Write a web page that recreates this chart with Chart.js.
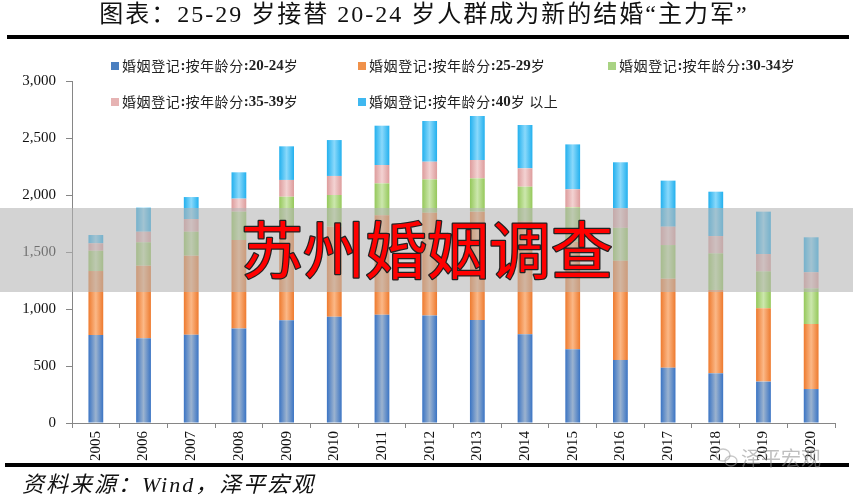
<!DOCTYPE html>
<html><head><meta charset="utf-8">
<script src="https://cdn.jsdelivr.net/npm/chart.js@4.4.1/dist/chart.umd.min.js"></script>
<style>html,body{margin:0;padding:0;background:#fff}#wrap{width:853px;height:500px;position:relative}</style>
</head><body><div id="wrap"><canvas id="c" width="853" height="500"></canvas></div>
<script>
const years = ['2005','2006','2007','2008','2009','2010','2011','2012','2013','2014','2015','2016','2017','2018','2019','2020'];
const age20_24 = [772, 743, 775, 830, 901, 933, 950, 942, 904, 778, 646, 553, 485, 436, 363, 298];
const age25_29 = [561, 637, 693, 775, 819, 789, 872, 902, 950, 992, 944, 870, 781, 731, 643, 570];
const age30_34 = [178, 205, 210, 249, 265, 278, 280, 293, 292, 303, 301, 289, 295, 321, 324, 313];
const age35_39 = [65, 93, 111, 114, 147, 167, 161, 155, 161, 161, 159, 171, 161, 152, 152, 141];
const age40plus = [73, 211, 193, 231, 295, 315, 345, 357, 386, 380, 394, 404, 404, 389, 372, 307];
const seriesLabels = ['婚姻登记:按年龄分:20-24岁','婚姻登记:按年龄分:25-29岁','婚姻登记:按年龄分:30-34岁','婚姻登记:按年龄分:35-39岁','婚姻登记:按年龄分:40岁 以上'];
const titleText = '图表：25-29 岁接替 20-24 岁人群成为新的结婚“主力军”';
const sourceText = '资料来源：Wind，泽平宏观';
const stampText = '苏州婚姻调查';
const markText = '泽平宏观';

const palette = [
  {edge:'#3a74c4', mid:'#9cb3cf', key:'#4a7fc0'},
  {edge:'#ee7a2e', mid:'#fbb887', key:'#f0914a'},
  {edge:'#95c85a', mid:'#cce7ad', key:'#a9d383'},
  {edge:'#dd9c9c', mid:'#f3d2d2', key:'#e6b3b3'},
  {edge:'#22b0ee', mid:'#8ad9fb', key:'#3fb8f0'}
];
const seriesData = [age20_24, age25_29, age30_34, age35_39, age40plus];

const SERIF = "'Liberation Serif'";
const CJK = "'Noto Sans CJK SC'";

function drawMixed(ctx, text, x, y){
  const runs = [];
  for (const ch of text){
    const ascii = /[\x00-\x7f]/.test(ch);
    if (runs.length && runs[runs.length-1].ascii === ascii) runs[runs.length-1].t += ch;
    else runs.push({ascii, t: ch});
  }
  let cx = x;
  for (const r of runs){
    ctx.font = r.ascii ? "bold 15px " + SERIF : "14px " + CJK;
    ctx.letterSpacing = r.ascii ? '0px' : '0.6px';
    ctx.fillText(r.t, cx, y);
    cx += ctx.measureText(r.t).width;
  }
  ctx.letterSpacing = '0px';
}

const decor = {
  id: 'decor',
  beforeDatasetsDraw(chart){
    const ctx = chart.ctx;
    chart.data.datasets.forEach((ds, di) => {
      const meta = chart.getDatasetMeta(di);
      const p = palette[di];
      meta.data.forEach(el => {
        const w = el.width, x0 = el.x - w/2;
        const g = ctx.createLinearGradient(x0, 0, x0 + w, 0);
        g.addColorStop(0, p.edge);
        g.addColorStop(0.5, p.mid);
        g.addColorStop(1, p.edge);
        el.options = Object.assign({}, el.options, {backgroundColor: g});
      });
    });
  },
  afterDraw(chart){
    const ctx = chart.ctx;
    ctx.save();
    // title
    ctx.fillStyle = '#111';
    ctx.textAlign = 'center';
    ctx.textBaseline = 'middle';
    ctx.font = "24px " + SERIF + ", " + CJK;
    ctx.letterSpacing = '2px';
    ctx.fillText(titleText, 424, 16);
    ctx.letterSpacing = '0px';
    // rules
    ctx.fillStyle = '#000';
    ctx.fillRect(7, 35, 842, 4);
    ctx.fillRect(5, 463, 844, 4);
    // source
    ctx.textAlign = 'left';
    ctx.textBaseline = 'middle';
    ctx.fillStyle = '#111';
    ctx.font = "italic 22px " + SERIF + ", " + CJK;
    ctx.letterSpacing = '2px';
    ctx.fillText(sourceText, 22, 486);
    ctx.letterSpacing = '0px';
    // legend
    const legendPos = [[111,66],[358,66],[608,66],[111,102],[358,102]];
    ctx.textBaseline = 'middle';
    seriesLabels.forEach((lab, i) => {
      const [lx, ly] = legendPos[i];
      ctx.fillStyle = palette[i].key;
      ctx.fillRect(lx, ly - 4, 8, 8);
      ctx.fillStyle = '#222';
      drawMixed(ctx, lab, lx + 11, ly);
    });
    // watermark
    ctx.globalAlpha = 0.55;
    ctx.strokeStyle = '#9a9a9a';
    ctx.lineWidth = 1.3;
    ctx.beginPath(); ctx.ellipse(723, 455, 7, 6, 0, 0, Math.PI*2); ctx.stroke();
    ctx.beginPath(); ctx.ellipse(731, 461, 6, 5, 0, 0, Math.PI*2); ctx.stroke();
    ctx.fillStyle = '#8a8a8a';
    ctx.font = "20px " + CJK;
    ctx.textAlign = 'left';
    ctx.fillText(markText, 741, 458);
    ctx.globalAlpha = 1;
    // overlay band
    ctx.fillStyle = 'rgba(180,180,180,0.58)';
    ctx.fillRect(0, 208, 853, 84);
    // stamp text
    ctx.font = "62px " + CJK;
    ctx.textAlign = 'center';
    ctx.textBaseline = 'middle';
    ctx.lineJoin = 'round';
    ctx.lineWidth = 2.5;
    ctx.strokeStyle = '#222';
    ctx.strokeText(stampText, 427, 250);
    ctx.fillStyle = '#ff0000';
    ctx.fillText(stampText, 427, 250);
    ctx.restore();
  }
};

new Chart(document.getElementById('c'), {
  type: 'bar',
  data: {
    labels: years,
    datasets: seriesData.map((d, i) => ({
      label: seriesLabels[i],
      data: d,
      backgroundColor: palette[i].edge,
      borderWidth: 0,
      barPercentage: 0.31,
      categoryPercentage: 1
    }))
  },
  options: {
    responsive: false,
    devicePixelRatio: 1,
    animation: false,
    layout: {padding: {left: 0, right: 18, top: 81, bottom: 0}},
    plugins: {legend: {display: false}, tooltip: {enabled: false}, title: {display: false}},
    scales: {
      x: {
        stacked: true,
        offset: true,
        afterFit(s){ s.height = 77; },
        border: {color: '#868686', width: 1},
        grid: {display: true, drawOnChartArea: false, drawTicks: true, tickLength: 5, color: '#868686', offset: true},
        ticks: {autoSkip: false, minRotation: 90, maxRotation: 90, padding: 3, color: '#111', font: {family: 'Liberation Serif', size: 15}}
      },
      y: {
        stacked: true,
        min: 0, max: 3000,
        afterFit(s){ s.width = 72; },
        border: {color: '#868686', width: 1},
        grid: {display: true, drawOnChartArea: false, drawTicks: true, tickLength: 6, color: '#868686'},
        ticks: {stepSize: 500, padding: 10, color: '#111', font: {family: 'Liberation Serif', size: 15},
          callback: v => Number(v).toLocaleString('en-US')}
      }
    }
  },
  plugins: [decor]
});
</script></body></html>
